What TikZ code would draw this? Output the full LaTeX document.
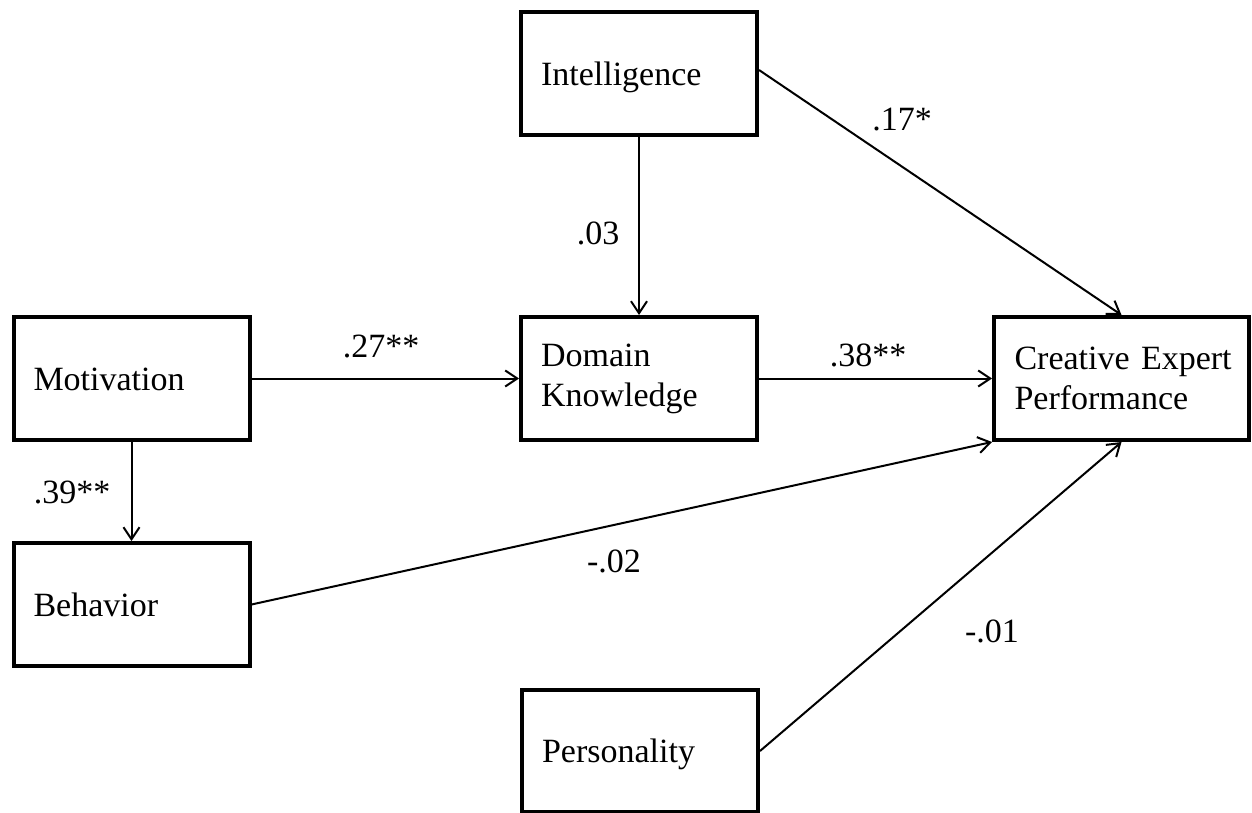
\documentclass[tikz,border=0pt]{standalone}
\usepackage{fontspec}
\setmainfont{Liberation Serif}
\usetikzlibrary{arrows.meta}
\begin{document}
\begin{tikzpicture}[x=1pt,y=-1pt,
  box/.style={draw, line width=4pt, minimum width=236pt, minimum height=123pt,
    text width=196pt, align=left, inner xsep=20pt, inner ysep=0pt,
    font=\fontsize{34}{40}\selectfont},
  one/.style={text height=23pt, text depth=0pt},
  lbl/.style={font=\fontsize{34}{40}\selectfont, inner sep=0pt},
  conn/.style={line width=2pt, -{Straight Barb[length=12pt,width=16pt,line width=2pt]}}
]
\useasboundingbox (0,0) rectangle (1252,813);
\node[box,one] (int) at (639,74) {Intelligence};
\node[box,one] (mot) at (131.5,378.5) {Motivation};
\node[box] (dom) at (639,378.5) {Domain\\Knowledge};
\node[box, minimum width=255pt, text width=230pt, inner xsep=12.5pt] (cre) at (1121.5,378.5) {\hspace*{8pt}Creative Expert\\\hspace*{8pt}Performance};
\node[box,one] (beh) at (131.5,604.5) {Behavior};
\node[box,one, minimum height=122pt] (per) at (640,751) {Personality};

\draw[conn] ([yshift=4pt]int.east) -- (cre.north);
\draw[conn] (int.south) -- (dom.north);
\draw[conn] (mot.east) -- (dom.west);
\draw[conn] (dom.east) -- (cre.west);
\draw[conn] (mot.south) -- (beh.north);
\draw[conn] (beh.east) -- (cre.south west);
\draw[conn] (per.east) -- (cre.south);

\node[lbl] (l17) at (902,120) {.17*};
\node[lbl] (l03) at (598,233) {.03};
\node[lbl] (l27) at (381,346) {.27**};
\node[lbl] (l38) at (868,355) {.38**};
\node[lbl] (l39) at (72,492) {.39**};
\node[lbl] (l02) at (614,561) {-.02};
\node[lbl] (l01) at (992,631) {-.01};
\end{tikzpicture}
\end{document}
